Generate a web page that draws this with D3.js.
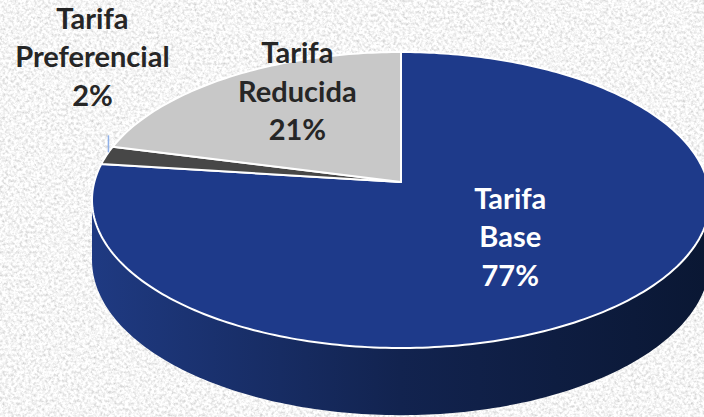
<!DOCTYPE html>
<html>
<head>
<meta charset="utf-8">
<script src="https://cdn.jsdelivr.net/npm/d3@7"></script>
<style>
  html, body { margin: 0; padding: 0; background: #e9e9e9; }
  svg { display: block; }
</style>
</head>
<body>
<div id="chart"></div>
<script>
// data
const categories = ["Tarifa Base", "Tarifa Preferencial", "Tarifa Reducida"];
const values = [77, 2, 21];
const labelLines = [["Tarifa", "Base", "77%"], ["Tarifa", "Preferencial", "2%"], ["Tarifa", "Reducida", "21%"]];

const width = 704, height = 417;

// colours of the top face and the side
const topColors = ["#1e3a8a", "#474747", "#c8c8c8"];
const sideColors = ["url(#sideBlue)", "#2a2a2a", "#8e8e8e"];
const textColors = ["#ffffff", "#262626", "#262626"];

// perspective of the disc
const cx = 401, cy = 182;   // centre of the pie as seen
const A = 306.7, B = 145.8; // radii before perspective
const k = 0.1216;           // perspective strength
const depth = 59;           // thickness

function proj(theta, r, h) {
    const u = r * Math.sin(theta);
    const v = -r * Math.cos(theta);
    const s = 1 / (1 - k * v);
    return [cx + A * u * s, cy + B * v * s + (h || 0) * s];
}

const svg = d3.select("#chart").append("svg")
    .attr("width", width)
    .attr("height", height);

const defs = svg.append("defs");

// paper-like texture for the background
const tex = defs.append("filter").attr("id", "tex")
    .attr("x", 0).attr("y", 0).attr("width", "100%").attr("height", "100%");
tex.append("feTurbulence")
    .attr("type", "fractalNoise")
    .attr("baseFrequency", 0.35)
    .attr("numOctaves", 3)
    .attr("seed", 7);
tex.append("feColorMatrix")
    .attr("type", "matrix")
    .attr("values", "0.75 0 0 0 0.54  0.75 0 0 0 0.54  0.75 0 0 0 0.54  0 0 0 0 1");

svg.append("rect")
    .attr("width", width)
    .attr("height", height)
    .attr("fill", "#e9e9e9")
    .attr("filter", "url(#tex)");

const grad = defs.append("linearGradient").attr("id", "sideBlue")
    .attr("gradientUnits", "userSpaceOnUse")
    .attr("x1", cx - A * 1.01).attr("x2", cx + A * 1.01)
    .attr("y1", 0).attr("y2", 0);
grad.append("stop").attr("offset", 0).attr("stop-color", "#1f3a82");
grad.append("stop").attr("offset", 0.5).attr("stop-color", "#12234f");
grad.append("stop").attr("offset", 1).attr("stop-color", "#0a1733");

const pie = d3.pie().sort(null).value(d => d)
    .startAngle(0).endAngle(2 * Math.PI);
const arcs = pie(values);

const line = d3.line();
const step = Math.PI / 180;

function arcPoints(a0, a1, r, h) {
    const n = Math.max(2, Math.ceil(Math.abs(a1 - a0) / step));
    const pts = [];
    for (let i = 0; i <= n; i++) {
        pts.push(proj(a0 + (a1 - a0) * i / n, r, h));
    }
    return pts;
}

// visible part of the side lies between the two silhouette angles
const thetaR = Math.atan2(Math.sqrt(1 - k * k), -k);
const thetaL = 2 * Math.PI - thetaR;

const sides = svg.append("g");
arcs.forEach((d, i) => {
    const a0 = Math.max(d.startAngle, thetaR);
    const a1 = Math.min(d.endAngle, thetaL);
    if (a1 <= a0) return;
    const pts = arcPoints(a0, a1, 1, 0).concat(arcPoints(a1, a0, 1, depth));
    sides.append("path")
        .attr("d", line(pts) + "Z")
        .attr("fill", sideColors[i]);
});

// top face
const topFace = svg.append("g");
arcs.forEach((d, i) => {
    const pts = [proj(0, 0, 0)].concat(arcPoints(d.startAngle, d.endAngle, 1, 0));
    topFace.append("path")
        .attr("d", line(pts) + "Z")
        .attr("fill", topColors[i])
        .attr("stroke", "#ffffff")
        .attr("stroke-width", 2)
        .attr("stroke-linejoin", "round");
});

// labels
const lineGap = 38.5;
const labelPlace = [
    { r: 0.5, dx: 3, dy: -2 },
    { r: 1.0, dx: -14, dy: -98 },
    { r: 0.6, dx: 3, dy: -25 }
];

const prefMid = (arcs[1].startAngle + arcs[1].endAngle) / 2;
const rim = proj(prefMid, 1, 0);
svg.append("line")
    .attr("x1", rim[0] + 2).attr("x2", rim[0] + 2)
    .attr("y1", rim[1] - 3).attr("y2", rim[1] - 20)
    .attr("stroke", "#8fb0e8")
    .attr("stroke-width", 1.5);

arcs.forEach((d, i) => {
    const mid = (d.startAngle + d.endAngle) / 2;
    const p = proj(mid, labelPlace[i].r, 0);
    const x = p[0] + labelPlace[i].dx;
    const y = p[1] + labelPlace[i].dy;
    const t = svg.append("text")
        .attr("x", x)
        .attr("y", y + 10 - lineGap)
        .attr("text-anchor", "middle")
        .attr("fill", textColors[i])
        .style("font-family", "Lato, 'Open Sans', sans-serif")
        .style("font-weight", "bold")
        .style("font-size", "29px");
    labelLines[i].forEach((s, j) => {
        t.append("tspan")
            .attr("x", x)
            .attr("dy", j === 0 ? 0 : lineGap)
            .text(s);
    });
});
</script>
</body>
</html>
